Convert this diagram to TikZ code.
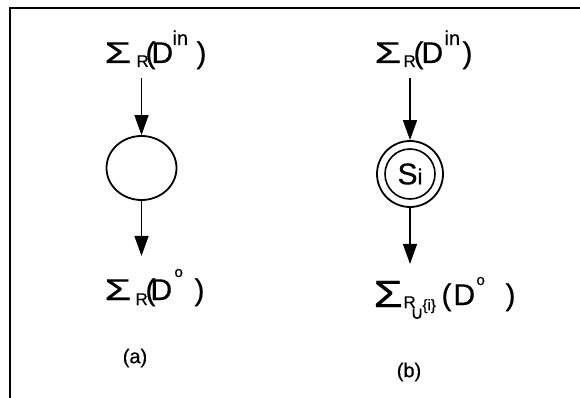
\documentclass[tikz,border=0pt]{standalone}
\usepackage{fontspec}
\usepackage{graphicx}
\setmainfont{Liberation Sans}[FakeBold=0.5]
\newfontfamily\symfnt{DejaVu Sans}[FakeBold=0.5]
\usetikzlibrary{arrows.meta,shapes.geometric}
% place a piece of a label: x offset, raise, font size, content
\newcommand\putat[4]{\rlap{\hspace{#1}\raisebox{#2}{\fontsize{#3}{#3}\selectfont #4}}}
\begin{document}
\begin{tikzpicture}[x=1pt,y=-1pt,
  lbl/.style={anchor=base west, inner sep=0pt, outer sep=0pt},
  arr/.style={-{Triangle[width=14pt,length=20pt]}, line width=1.5pt},
  ring/.style={draw, line width=1.8pt, inner sep=0pt}]
\useasboundingbox (0,0) rectangle (580,398);
% frame
\draw[line width=2pt] (10,398) -- (10,8) -- (580,8);

% ---------- (a) ----------
\node[lbl] (ta) at (104,63) {%
  \putat{0pt}{0pt}{30}{\scalebox{1.45}[1]{Σ}}%
  \putat{32pt}{-4pt}{17}{R}%
  \putat{41pt}{0pt}{30}{(}%
  \putat{47pt}{0pt}{30}{D}%
  \putat{68pt}{18pt}{20}{in}%
  \putat{92pt}{0pt}{30}{)}%
  \hspace{100pt}};
\node[ring, ellipse, minimum width=70pt, minimum height=64pt] (ca) at (141.5,168) {};
\node[lbl] (ba) at (104,300) {%
  \putat{0pt}{0pt}{30}{\scalebox{1.45}[1]{Σ}}%
  \putat{31pt}{-5pt}{17}{R}%
  \putat{41pt}{0pt}{30}{(}%
  \putat{46pt}{0pt}{30}{D}%
  \putat{70pt}{23pt}{15}{o}%
  \putat{90pt}{0pt}{30}{)}%
  \hspace{100pt}};
\node[font=\fontsize{20}{20}\selectfont] (la) at (135,358) {(a)};
\draw[arr, shorten <=9pt] (ca.north |- ta.south) -- (ca.north);
\draw[arr, shorten >=13pt] (ca.south) -- (ca.south |- ba.north);

% ---------- (b) ----------
\node[lbl] (tb) at (374,63) {%
  \putat{0pt}{0pt}{30}{\scalebox{1.45}[1]{Σ}}%
  \putat{29pt}{-4pt}{17}{R}%
  \putat{39pt}{0pt}{30}{(}%
  \putat{47pt}{0pt}{30}{D}%
  \putat{70pt}{18pt}{20}{in}%
  \putat{88pt}{0pt}{30}{)}%
  \hspace{96pt}};
\node[ring, circle, minimum size=66pt] (cb) at (410,174) {};
\node[ring, circle, minimum size=50pt, line width=1.6pt,
      font=\fontsize{30}{30}\selectfont] (cbi) at (cb) {S\fontsize{22}{22}\selectfont i};
\node[lbl] (bb) at (373,305) {%
  \putat{0pt}{-2pt}{38}{\scalebox{1.25}[1]{Σ}}%
  \putat{30pt}{-3pt}{17}{R}%
  \putat{37pt}{-14pt}{18}{\symfnt ∪}%
  \putat{49pt}{-5pt}{15}{\{i\}}%
  \putat{68pt}{0pt}{30}{(}%
  \putat{80pt}{0pt}{30}{D}%
  \putat{103pt}{20pt}{15}{o}%
  \putat{132pt}{0pt}{30}{)}%
  \hspace{145pt}};
\node[font=\fontsize{20}{20}\selectfont] (lb) at (409,372) {(b)};
\draw[arr, shorten <=9pt] (cb.north |- tb.south) -- (cb.north);
\draw[arr, shorten >=13pt] (cb.south) -- (cb.south |- bb.north);
\end{tikzpicture}
\end{document}
